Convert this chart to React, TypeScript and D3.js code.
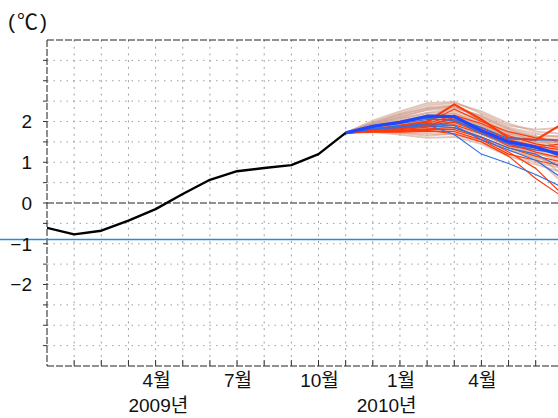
import * as d3 from "d3";

// month index 0 = Dec 2008 ... 19 = Jul 2010
const OBS = [-0.61, -0.77, -0.68, -0.43, -0.15, 0.22, 0.57, 0.78, 0.86, 0.93, 1.2, 1.72];
const FC_START = 11; // Nov 2009

const BROWN = [
  [1.72, 2.02, 2.25, 2.45, 2.48, 2.2, 1.9, 1.8, 1.85],
  [1.72, 1.98, 2.2, 2.4, 2.45, 2.25, 1.95, 1.75, 1.7],
  [1.72, 1.95, 2.15, 2.35, 2.4, 2.1, 1.8, 1.6, 1.55],
  [1.72, 1.92, 2.1, 2.3, 2.38, 2.05, 1.7, 1.55, 1.5],
  [1.72, 1.9, 2.05, 2.22, 2.3, 2.0, 1.65, 1.5, 1.4],
  [1.72, 1.88, 2.0, 2.15, 2.2, 1.95, 1.6, 1.45, 1.35],
  [1.72, 1.85, 1.95, 2.1, 2.15, 1.9, 1.55, 1.4, 1.3],
  [1.72, 1.82, 1.9, 2.0, 2.05, 1.85, 1.5, 1.35, 1.25],
  [1.72, 1.8, 1.85, 1.95, 1.98, 1.75, 1.45, 1.3, 1.2],
  [1.72, 1.78, 1.8, 1.85, 1.9, 1.7, 1.4, 1.2, 1.1],
  [1.72, 1.76, 1.75, 1.78, 1.8, 1.6, 1.3, 1.1, 0.95],
  [1.72, 1.75, 1.72, 1.7, 1.68, 1.5, 1.2, 1.0, 0.85],
  [1.72, 1.95, 2.12, 2.28, 2.32, 2.15, 1.85, 1.7, 1.6],
  [1.72, 1.93, 2.08, 2.2, 2.25, 2.05, 1.75, 1.62, 1.65],
  [1.72, 1.9, 2.02, 2.15, 2.2, 2.0, 1.72, 1.55, 1.45],
  [1.72, 1.87, 1.98, 2.1, 2.12, 1.92, 1.62, 1.5, 1.48],
  [1.72, 1.83, 1.92, 2.02, 2.08, 1.88, 1.58, 1.4, 1.15],
  [1.72, 1.8, 1.88, 1.98, 2.0, 1.8, 1.5, 1.25, 1.0],
  [1.72, 1.78, 1.83, 1.9, 1.92, 1.72, 1.38, 1.15, 0.9],
  [1.72, 1.97, 2.18, 2.32, 2.36, 2.12, 1.82, 1.65, 1.25],
  [1.72, 1.84, 1.96, 2.05, 2.1, 1.95, 1.68, 1.45, 1.2],
  [1.72, 1.79, 1.86, 1.92, 1.95, 1.78, 1.52, 1.3, 1.05],
  [1.72, 1.76, 1.78, 1.82, 1.85, 1.68, 1.42, 1.2, 0.7],
  [1.72, 1.9, 2.0, 2.08, 2.02, 1.85, 1.55, 1.35, 1.1],
  [1.72, 1.74, 1.68, 1.6, 1.62, 1.45, 1.15, 0.95, 0.75],
  [1.72, 1.77, 1.72, 1.65, 1.7, 1.55, 1.3, 1.1, 0.5],
];

const RED = [
  [1.72, 1.8, 1.9, 2.0, 2.42, 2.05, 1.6, 1.55, 1.95],
  [1.72, 1.79, 1.88, 1.98, 2.3, 2.0, 1.75, 1.6, 1.5],
  [1.72, 1.78, 1.86, 1.95, 2.15, 1.95, 1.65, 1.45, 1.35],
  [1.72, 1.78, 1.84, 1.92, 2.05, 1.85, 1.55, 1.4, 1.3],
  [1.72, 1.77, 1.82, 1.9, 2.0, 1.8, 1.5, 1.35, 1.2],
  [1.72, 1.76, 1.8, 1.86, 1.92, 1.7, 1.45, 1.25, 1.1],
  [1.72, 1.76, 1.78, 1.82, 1.85, 1.62, 1.35, 1.15, 1.0],
  [1.72, 1.75, 1.76, 1.8, 1.8, 1.6, 1.25, 0.85, 0.2],
  [1.72, 1.74, 1.74, 1.76, 1.75, 1.55, 1.2, 1.05, 0.9],
  [1.72, 1.75, 1.76, 1.78, 1.7, 1.5, 1.15, 0.6, 0.15],
  [1.72, 1.78, 1.85, 1.9, 2.1, 1.75, 1.4, 1.3, 1.25],
  [1.72, 1.77, 1.83, 1.88, 1.98, 1.72, 1.48, 1.38, 1.45],
];

const BLUE = [
  [1.72, 1.9, 2.0, 2.12, 2.1, 1.85, 1.58, 1.55, 1.55],
  [1.72, 1.88, 1.95, 2.05, 2.05, 1.7, 1.45, 1.3, 1.2],
  [1.72, 1.82, 1.88, 1.92, 1.68, 1.2, 0.97, 0.7, 0.38],
  [1.72, 1.83, 1.88, 1.95, 1.9, 1.55, 1.3, 1.05, 0.6],
  [1.72, 1.86, 1.98, 2.08, 2.02, 1.75, 1.5, 1.4, 1.1],
  [1.72, 1.82, 1.85, 1.9, 1.85, 1.62, 1.35, 1.2, 0.85],
];

const MEAN = [1.72, 1.88, 1.98, 2.13, 2.12, 1.78, 1.5, 1.37, 1.17];

const Y_LABELS = [2, 1, 0, -1, -2];
const X_LABELS = [
  { i: 4, t: "4월" },
  { i: 7, t: "7월" },
  { i: 10, t: "10월" },
  { i: 13, t: "1월" },
  { i: 16, t: "4월" },
];
const YEAR_LABELS = [
  { i: 4.1, t: "2009년" },
  { i: 12.51, t: "2010년" },
];

const W = 558, H = 418;
const L = 47, T = 40, B = 366;
const FONT = "'Liberation Sans', 'Noto Sans CJK KR', sans-serif";

export default function App() {
  const x = d3.scaleLinear().domain([0, 19]).range([L, L + 19 * 27.15]);
  const y = d3.scaleLinear().domain([-4, 4]).range([B, T]);

  const line = d3.line<number>().x((_, i) => x(i)).y(d => y(d));
  const fcLine = d3.line<number>().x((_, i) => x(FC_START + i)).y(d => y(d));

  const hGrid = d3.range(-3.5, 4, 0.5).filter(v => v !== 0);
  const months = d3.range(1, 20);
  const leftTicks = d3.range(-3.5, 4, 0.5);

  return (
    <svg width={W} height={H} style={{ position: "absolute", left: 0, top: 0, background: "#fff" }}>
      <defs>
        <clipPath id="plot">
          <rect x={L} y={T} width={W - L} height={B - T} />
        </clipPath>
      </defs>

      {/* grid */}
      {hGrid.map(v => (
        <line key={"h" + v} x1={L} x2={W} y1={y(v)} y2={y(v)}
          stroke="#a0a0a0" strokeWidth={1} strokeDasharray="1.5 5" />
      ))}
      {months.map(m => (
        <line key={"v" + m} x1={x(m)} x2={x(m)} y1={T} y2={B}
          stroke="#a0a0a0" strokeWidth={1} strokeDasharray="2 4.7" />
      ))}

      {/* zero line */}
      <line x1={L} x2={W} y1={y(0)} y2={y(0)} stroke="#222" strokeWidth={1.2} strokeDasharray="7 2" />

      {/* frame */}
      <line x1={L} x2={W} y1={T} y2={T} stroke="#222" strokeWidth={1.2} strokeDasharray="7 2" />
      <line x1={L} x2={W} y1={B} y2={B} stroke="#222" strokeWidth={1.2} strokeDasharray="7 2" />
      <line x1={L} x2={L} y1={T} y2={B} stroke="#444" strokeWidth={1.2} strokeDasharray="7 2" />

      {leftTicks.map(v => (
        <line key={"lt" + v} x1={L - 4} x2={L} y1={y(v)} y2={y(v)} stroke="#333" strokeWidth={1} />
      ))}
      {months.map(m => (
        <line key={"bt" + m} x1={x(m)} x2={x(m)} y1={B - 6} y2={B} stroke="#333" strokeWidth={1} />
      ))}

      <g clipPath="url(#plot)" fill="none" strokeLinejoin="round">
        {BROWN.map((s, k) => (
          <path key={"b" + k} d={fcLine(s) ?? ""} stroke="#cf9e8c" strokeOpacity={0.6} strokeWidth={1.8} />
        ))}
        {RED.map((s, k) => (
          <path key={"r" + k} d={fcLine(s) ?? ""} stroke="#ff3a0a" strokeWidth={k === 0 ? 2.2 : 1.2} />
        ))}
        {BLUE.map((s, k) => (
          <path key={"u" + k} d={fcLine(s) ?? ""} stroke="#2f6fe0" strokeWidth={1.1} />
        ))}
        <path d={fcLine(MEAN) ?? ""} stroke="#1f47ff" strokeWidth={3.2} />
        <path d={line(OBS) ?? ""} stroke="#000" strokeWidth={2.4} />
      </g>

      {/* stray line across the picture */}
      <line x1={0} x2={W} y1={239.5} y2={239.5} stroke="#2b8ad6" strokeWidth={1.5} />

      {/* labels */}
      <g fontFamily={FONT} fontSize={19} fill="#111">
        {Y_LABELS.map(v => (
          <text key={"yl" + v} x={32} y={y(v)} dy="0.36em" textAnchor="end">
            {v < 0 ? "\u2212" + Math.abs(v) : v}
          </text>
        ))}
        {X_LABELS.map(d => (
          <text key={"xl" + d.i} x={x(d.i) + 1} y={387} textAnchor="middle">{d.t}</text>
        ))}
        {YEAR_LABELS.map(d => (
          <text key={"yr" + d.t} x={x(d.i)} y={412} textAnchor="middle">{d.t}</text>
        ))}
        <text x={8} y={29} fontSize={21} letterSpacing={2}>(℃)</text>
      </g>
    </svg>
  );
}
